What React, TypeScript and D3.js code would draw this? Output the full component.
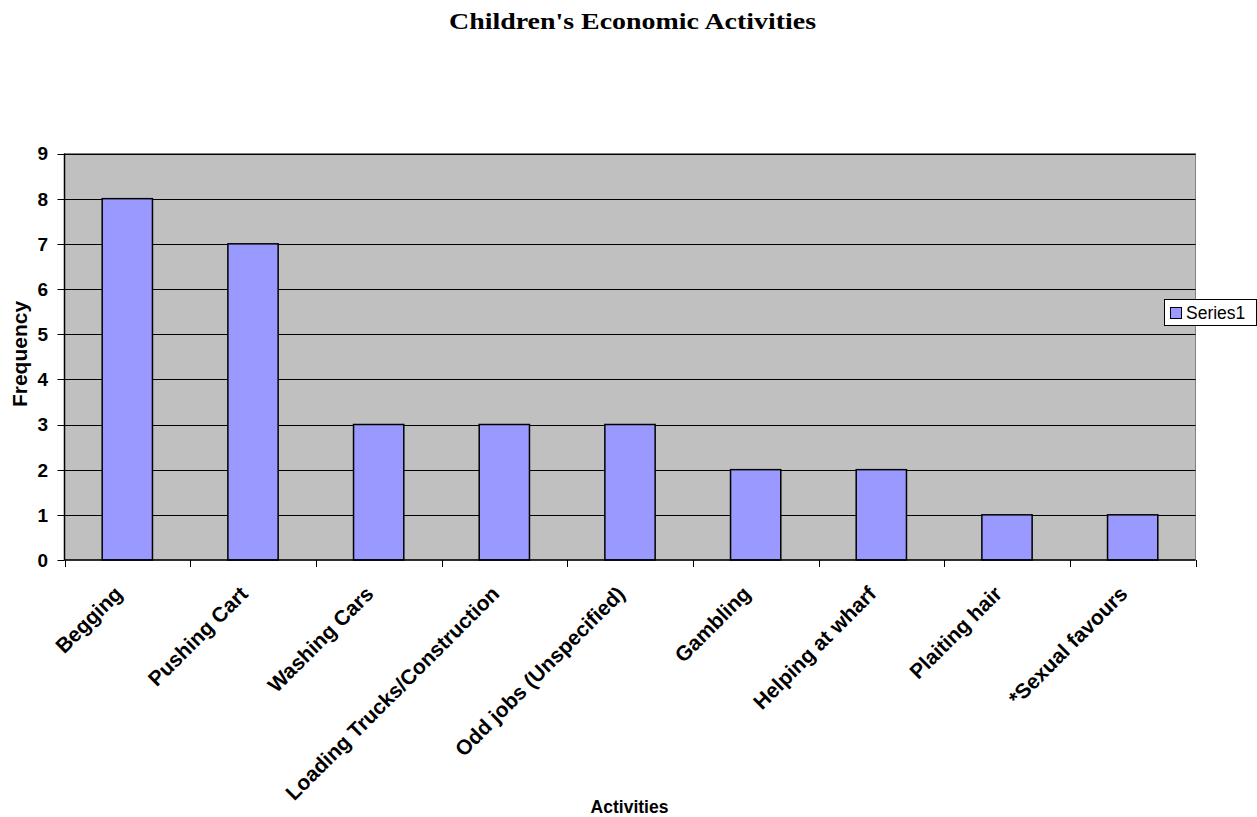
import React from "react";
import * as d3 from "d3";

const categories = [
  "Begging",
  "Pushing Cart",
  "Washing Cars",
  "Loading Trucks/Construction",
  "Odd jobs (Unspecified)",
  "Gambling",
  "Helping at wharf",
  "Plaiting hair",
  "*Sexual favours",
];
const values = [8, 7, 3, 3, 3, 2, 2, 1, 1];
const yTicks = [0, 1, 2, 3, 4, 5, 6, 7, 8, 9];
const seriesName = "Series1";
const title = "Children's Economic Activities";
const xTitle = "Activities";
const yTitle = "Frequency";

const W = 1257;
const H = 817;
const plot = { left: 64.5, right: 1195.5, top: 153.5, bottom: 560 };
const sans = "'Liberation Sans', Arial, sans-serif";

export default function App() {
  const x = d3
    .scaleBand<string>()
    .domain(categories)
    .range([plot.left, plot.right])
    .paddingInner(0)
    .paddingOuter(0);
  const y = d3.scaleLinear().domain([0, 9]).range([plot.bottom, plot.top]);
  const bw = x.bandwidth();
  const barW = bw / 2.5;
  const boundaries = d3.range(categories.length + 1).map((i) => plot.left + i * bw);

  return (
    <svg
      width={W}
      height={H}
      style={{ position: "absolute", left: 0, top: 0, background: "#fff" }}
    >
      <text
        x={632.5}
        y={29}
        textAnchor="middle"
        fontFamily="'Liberation Serif', 'DejaVu Serif', serif"
        fontWeight="bold"
        fontSize={23}
        textLength={367}
        lengthAdjust="spacingAndGlyphs"
        fill="#000"
      >
        {title}
      </text>

      <rect
        x={plot.left}
        y={plot.top}
        width={plot.right - plot.left}
        height={plot.bottom - plot.top}
        fill="#c0c0c0"
        stroke="#808080"
        strokeWidth={1}
      />
      {yTicks.slice(1).map((t) => (
        <line
          key={"g" + t}
          x1={plot.left}
          x2={plot.right}
          y1={Math.round(y(t)) + 0.5}
          y2={Math.round(y(t)) + 0.5}
          stroke="#000"
          strokeWidth={1}
        />
      ))}

      {values.map((v, i) => {
        const cx = (x(categories[i]) as number) + bw / 2;
        return (
          <rect
            key={"b" + i}
            x={cx - barW / 2}
            y={y(v)}
            width={barW}
            height={plot.bottom - y(v)}
            fill="#9999ff"
            stroke="#000"
            strokeWidth={1.5}
          />
        );
      })}

      {/* axes */}
      <line x1={plot.left} x2={plot.left} y1={plot.top} y2={plot.bottom} stroke="#000" strokeWidth={1.5} />
      <line x1={plot.left} x2={plot.right} y1={plot.bottom} y2={plot.bottom} stroke="#000" strokeWidth={1.5} />
      {yTicks.map((t) => (
        <g key={"yt" + t}>
          <line
            x1={plot.left - 7}
            x2={plot.left}
            y1={Math.round(y(t)) + 0.5}
            y2={Math.round(y(t)) + 0.5}
            stroke="#000"
          />
          <text
            x={48}
            y={y(t)}
            dy="0.36em"
            textAnchor="end"
            fontFamily={sans}
            fontWeight="bold"
            fontSize={19}
          >
            {t}
          </text>
        </g>
      ))}
      {boundaries.map((bx, i) => (
        <line
          key={"xt" + i}
          x1={Math.round(bx) + 0.5}
          x2={Math.round(bx) + 0.5}
          y1={plot.bottom}
          y2={plot.bottom + 7}
          stroke="#000"
        />
      ))}
      {categories.map((c) => {
        const cx = (x(c) as number) + bw / 2;
        return (
          <text
            key={"xl" + c}
            transform={`translate(${cx - 9},${590}) rotate(-45)`}
            textAnchor="end"
            dy="0.35em"
            fontFamily={sans}
            fontWeight="bold"
            fontSize={21}
          >
            {c}
          </text>
        );
      })}

      <text
        transform={`translate(27,${354}) rotate(-90)`}
        textAnchor="middle"
        fontFamily={sans}
        fontWeight="bold"
        fontSize={21}
      >
        {yTitle}
      </text>
      <text
        x={629.5}
        y={813}
        textAnchor="middle"
        fontFamily={sans}
        fontWeight="bold"
        fontSize={17.5}
      >
        {xTitle}
      </text>

      {/* legend */}
      <rect x={1164.5} y={299.5} width={92} height={26} fill="#fff" stroke="#000" strokeWidth={1} />
      <rect x={1170.5} y={307.5} width={11} height={11} fill="#9999ff" stroke="#000" strokeWidth={1} />
      <text x={1186} y={319} fontFamily={sans} fontSize={17.5}>
        {seriesName}
      </text>
    </svg>
  );
}
